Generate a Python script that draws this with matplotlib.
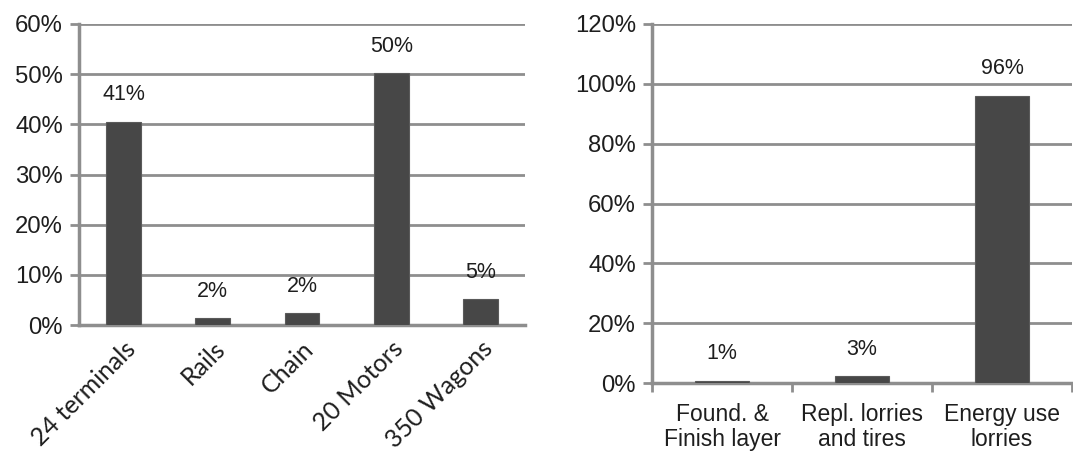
import matplotlib
matplotlib.use("Agg")
import matplotlib.pyplot as plt
import numpy as np

plt.rcParams['font.family'] = ['Liberation Sans', 'DejaVu Sans']

# Left chart data
left_categories = ["24 terminals", "Rails", "Chain", "20 Motors", "350 Wagons"]
left_values = [40.5, 1.3, 2.3, 50.2, 5.1]
left_labels = ["41%", "2%", "2%", "50%", "5%"]
left_yticks = [0, 10, 20, 30, 40, 50, 60]

# Right chart data
right_categories = ["Found. &\nFinish layer", "Repl. lorries\nand tires", "Energy use\nlorries"]
right_values = [0.7, 2.2, 96.0]
right_labels = ["1%", "3%", "96%"]
right_yticks = [0, 20, 40, 60, 80, 100, 120]

W, H = 1073, 453
fig = plt.figure(figsize=(W / 100, H / 100), dpi=100)

BAR = "#474747"
GRID = "#8e8e8e"
TXT = "#1e1e1e"
FS = 17.2
PX = 0.72  # points per pixel


def style(ax, yticks):
    ax.set_ylim(yticks[0], yticks[-1])
    ax.set_yticks(yticks)
    ax.set_yticklabels([f"{t}%" for t in yticks], fontsize=FS, color=TXT)
    ax.yaxis.grid(True, color=GRID, linewidth=2)
    ax.set_axisbelow(True)
    for s in ["top", "right"]:
        ax.spines[s].set_visible(False)
    ax.spines["left"].set_color(GRID)
    ax.spines["left"].set_linewidth(2.5)
    ax.spines["bottom"].set_color(GRID)
    ax.spines["bottom"].set_linewidth(2.5)
    ax.tick_params(axis="y", length=9 * PX, width=2, color=GRID, pad=7 * PX)


def annotate(ax, xs, vals, labels):
    for x, v, lab in zip(xs, vals, labels):
        ax.annotate(lab, (x, v), xytext=(0, 27 * PX), textcoords="offset points",
                    ha="center", va="center", fontsize=15.5, color=TXT)


# Left axes
axL = fig.add_axes([79 / W, 1 - 325 / H, (525 - 79) / W, (325 - 24) / H])
xl = np.arange(len(left_categories))
axL.bar(xl, left_values, width=0.39, color=BAR, edgecolor="#5a5a5a", linewidth=0.8, zorder=3)
axL.set_xlim(-0.5, len(left_categories) - 0.5)
style(axL, left_yticks)
axL.set_xticks(xl)
axL.set_xticklabels(left_categories, rotation=45, ha="right", rotation_mode="anchor",
                    fontsize=18, color=TXT, family=["Lato", "DejaVu Sans"])
axL.tick_params(axis="x", length=0, pad=12 * PX)
annotate(axL, xl, left_values, left_labels)

# Right axes
axR = fig.add_axes([652 / W, 1 - 383 / H, (1072 - 652) / W, (383 - 24) / H])
xr = np.arange(len(right_categories))
axR.bar(xr, right_values, width=0.39, color=BAR, edgecolor="#5a5a5a", linewidth=0.8, zorder=3)
axR.set_xlim(-0.5, len(right_categories) - 0.5)
style(axR, right_yticks)
axR.set_xticks(xr)
axR.set_xticklabels(right_categories, fontsize=16.5, color=TXT, linespacing=1.1, va="top")
axR.tick_params(axis="x", which="major", length=0, pad=20 * PX)
axR.set_xticks(np.arange(-0.5, len(right_categories)), minor=True)
axR.tick_params(axis="x", which="minor", length=9 * PX, width=2, color=GRID)
annotate(axR, xr, right_values, right_labels)

fig.savefig("out.png", dpi=100)
